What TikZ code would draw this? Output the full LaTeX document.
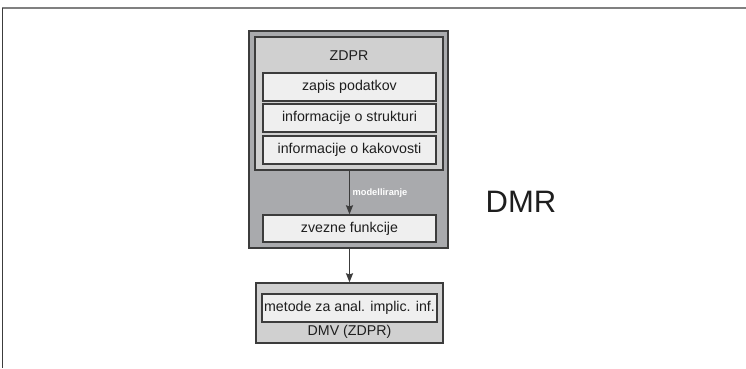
\documentclass[tikz,border=0pt]{standalone}
\usepackage{fontspec}
\setmainfont{Liberation Sans}
\usetikzlibrary{arrows.meta}
\definecolor{edge}{HTML}{3C3C3C}
\definecolor{ink}{HTML}{1E1E1E}
\definecolor{darkfill}{HTML}{A9AAAD}
\definecolor{midfill}{HTML}{D0D0D0}
\definecolor{lightfill}{HTML}{EFEFEF}
\tikzset{
  box/.style={draw=edge, line width=1.3pt, inner sep=0pt, text=ink, font=\fontsize{14.2}{16}\selectfont},
  itembox/.style={box, fill=lightfill, minimum width=173pt, minimum height=28pt},
  flow/.style={draw=edge, line width=1.4pt, -{Stealth[length=9pt,width=7pt,inset=1pt]}},
  plain/.style={text=ink, inner sep=0pt, font=\fontsize{14.2}{16}\selectfont}
}
\begin{document}
\begin{tikzpicture}[x=1pt,y=-1pt]
\useasboundingbox (0,0) rectangle (746,368);
\fill[white] (0,0) rectangle (746,368);
% open frame: top and left edges only
\draw[gray, line width=1.5pt] (2,8) -- (746,8);
\draw[edge, line width=1.5pt] (2.5,8) -- (2.5,368);

% DMR container and its parts
\node[box, fill=darkfill, minimum width=199pt, minimum height=217pt] (outer) at (348.5,139.5) {};
\node[box, fill=midfill, minimum width=188pt, minimum height=133pt] (zdpr) at (349,103.5) {};
\node[plain] (zdprlbl) at (349,56) {ZDPR};
\node[itembox] (zapis) at (349.5,87) {zapis podatkov};
\node[itembox] (struk) at (349.5,118) {informacije o strukturi};
\node[itembox] (kak) at (349.5,150) {informacije o kakovosti};
\node[itembox, minimum height=27pt] (zvez) at (349.5,228.5) {zvezne funkcije};
\node[inner sep=0pt, text=white, font=\fontsize{9.3}{10}\selectfont\bfseries] (model) at (380,193) {modelliranje};
\node[plain, font=\fontsize{31}{34}\selectfont] (dmr) at (521,202) {DMR};

% DMV box
\node[box, fill=midfill, minimum width=187pt, minimum height=60pt] (dmv) at (349.5,313) {};
\node[itembox, minimum width=175pt] (metode) at (349.5,308) {metode za anal. implic. inf.};
\node[plain] (dmvlbl) at (349.5,332) {DMV (ZDPR)};

% connectors
\draw[flow] (zdpr.south -| zvez.north) -- (zvez.north);
\draw[flow] (outer.south -| dmv.north) -- (dmv.north);
\end{tikzpicture}
\end{document}
